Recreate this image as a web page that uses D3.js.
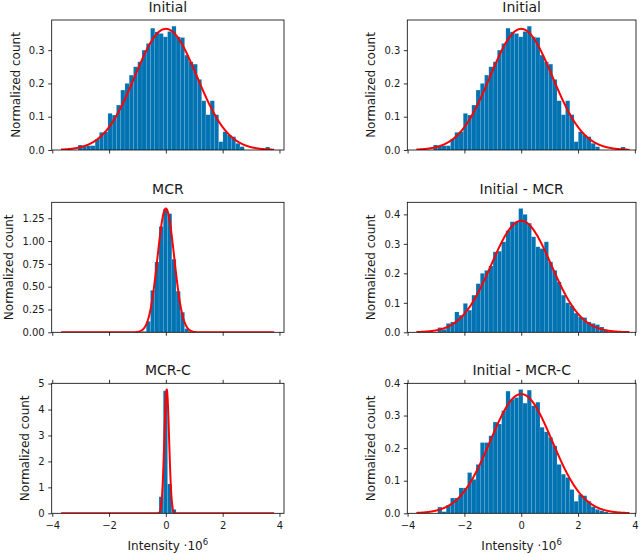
<!DOCTYPE html>
<html>
<head>
<meta charset="utf-8">
<script src="https://cdn.jsdelivr.net/npm/d3@7"></script>
<style>
  body { margin: 0; background: #fff; }
  svg { font-family: "DejaVu Sans", sans-serif; }
</style>
</head>
<body>
<div id="chart"></div>
<script>
// shared histogram bins (50 bins over the data range)
const binStart = -3.69;
const binWidth = 0.15;
const fitRange = [-3.69, 3.81];

const titles = ["Initial", "Initial", "MCR", "Initial - MCR", "MCR-C", "Initial - MCR-C"];

const initialHist = [0, 0, 0, 0, 0.015, 0.013, 0.013, 0.013, 0.033, 0.053,
  0.055, 0.11, 0.105, 0.135, 0.18, 0.20, 0.225, 0.25, 0.265, 0.30,
  0.32, 0.366, 0.355, 0.35, 0.34, 0.356, 0.372, 0.34, 0.338, 0.285,
  0.265, 0.258, 0.212, 0.148, 0.106, 0.148, 0.106, 0.025, 0.055, 0.045,
  0.04, 0.02, 0.01, 0, 0, 0, 0, 0, 0.009, 0];

const mcrHist = [0, 0, 0, 0, 0, 0, 0, 0, 0, 0,
  0, 0, 0, 0, 0, 0, 0, 0, 0, 0.01,
  0.12, 0.46, 0.77, 1.16, 1.35, 1.30, 0.80, 0.45, 0.22, 0.04,
  0.01, 0, 0, 0, 0, 0, 0, 0, 0, 0,
  0, 0, 0, 0, 0, 0, 0, 0, 0, 0];

const initialMinusMcrHist = [0, 0, 0, 0, 0, 0.016, 0.01, 0.03, 0.035, 0.069,
  0.058, 0.098, 0.075, 0.126, 0.165, 0.20, 0.21, 0.225, 0.273, 0.275,
  0.307, 0.345, 0.375, 0.375, 0.42, 0.40, 0.37, 0.324, 0.29, 0.284,
  0.307, 0.239, 0.21, 0.171, 0.126, 0.10, 0.09, 0.065, 0.052, 0.05,
  0.035, 0.03, 0.026, 0.018, 0.008, 0, 0, 0, 0, 0];

const mcrcHist = [0, 0, 0, 0, 0, 0, 0, 0, 0, 0,
  0, 0, 0, 0, 0, 0, 0, 0, 0, 0,
  0, 0, 0, 0.64, 4.72, 1.13, 0.15, 0, 0, 0,
  0, 0, 0, 0, 0, 0, 0, 0, 0, 0,
  0, 0, 0, 0, 0, 0, 0, 0, 0, 0];

const initialMinusMcrcHist = [0, 0, 0, 0, 0, 0.019, 0.005, 0.025, 0.047, 0.047,
  0.078, 0.078, 0.125, 0.104, 0.15, 0.217, 0.217, 0.238, 0.28, 0.274,
  0.315, 0.375, 0.35, 0.355, 0.38, 0.338, 0.378, 0.33, 0.341, 0.264,
  0.25, 0.233, 0.207, 0.15, 0.12, 0.11, 0.073, 0.037, 0.058, 0.054,
  0.037, 0.02, 0.012, 0.008, 0.004, 0, 0, 0, 0, 0];

const hists = [initialHist, initialHist, mcrHist, initialMinusMcrHist, mcrcHist, initialMinusMcrcHist];

// gaussian fits (mean, sigma), normalized pdf
const fitMean = [0, 0, 0, 0, 0.03, 0];
const fitSigma = [1.096, 1.096, 0.294, 1.055, 0.0836, 1.09];

const xTicks = [-4, -2, 0, 2, 4];
const yTicks = [
  [0, 0.1, 0.2, 0.3],
  [0, 0.1, 0.2, 0.3],
  [0, 0.25, 0.5, 0.75, 1.0, 1.25],
  [0, 0.1, 0.2, 0.3, 0.4],
  [0, 1, 2, 3, 4, 5],
  [0, 0.1, 0.2, 0.3, 0.4]
];
const yFormats = [".1f", ".1f", ".2f", ".1f", "d", ".1f"];

// layout
const colLeft = [51.7, 407.3];
const colRight = [284, 636];
const xDomains = [[-4.02, 4.16], [-4.01, 4.04]];
const rowTop = [20, 202.3, 383.3];
const plotHeight = 130;
const barColor = "#0173b2";

const svg = d3.select("#chart").append("svg")
  .attr("width", 640)
  .attr("height", 554);

function gauss(v, mu, s) {
  return Math.exp(-0.5 * ((v - mu) / s) ** 2) / (s * Math.sqrt(2 * Math.PI));
}

titles.forEach((title, i) => {
  const col = i % 2;
  const row = Math.floor(i / 2);
  const top = rowTop[row];
  const bottom = top + plotHeight;
  const left = colLeft[col];
  const right = colRight[col];
  const hist = hists[i];

  const x = d3.scaleLinear().domain(xDomains[col]).range([left, right]);
  const peak = gauss(fitMean[i], fitMean[i], fitSigma[i]);
  const ymax = 1.05 * Math.max(d3.max(hist), peak);
  const y = d3.scaleLinear().domain([0, ymax]).range([bottom, top]);

  const g = svg.append("g");

  g.append("clipPath")
    .attr("id", "clip" + i)
    .append("rect")
    .attr("x", left).attr("y", top)
    .attr("width", right - left).attr("height", plotHeight);

  const bins = hist.map((v, k) => ({ x0: binStart + k * binWidth, x1: binStart + (k + 1) * binWidth, v }))
    .filter(d => d.v > 0);

  g.append("g")
    .attr("clip-path", `url(#clip${i})`)
    .selectAll("rect")
    .data(bins)
    .enter()
    .append("rect")
    .attr("x", d => x(d.x0))
    .attr("width", d => x(d.x1) - x(d.x0))
    .attr("y", d => y(d.v))
    .attr("height", d => y(0) - y(d.v))
    .attr("fill", barColor)
    .attr("stroke", "#ffffff")
    .attr("stroke-opacity", 0.18)
    .attr("stroke-width", 0.5);

  const n = 1500;
  const pts = d3.range(n).map(j => {
    const v = fitRange[0] + j * (fitRange[1] - fitRange[0]) / (n - 1);
    return [v, gauss(v, fitMean[i], fitSigma[i])];
  });

  g.append("path")
    .datum(pts)
    .attr("clip-path", `url(#clip${i})`)
    .attr("fill", "none")
    .attr("stroke", "#ff0000")
    .attr("stroke-width", 2)
    .attr("stroke-linejoin", "round")
    .attr("d", d3.line().x(d => x(d[0])).y(d => y(d[1])));

  // x axis
  const xAxis = d3.axisBottom(x)
    .tickValues(xTicks)
    .tickSize(3.5)
    .tickPadding(5)
    .tickFormat(row === 2 ? d3.format("d") : () => "");
  const xg = g.append("g").attr("transform", `translate(0,${bottom})`).call(xAxis);
  if (row === 2) {
    g.append("g").attr("transform", `translate(0,${top})`)
      .call(d3.axisTop(x).tickValues(xTicks).tickSize(3.5).tickFormat(() => ""))
      .call(a => a.select(".domain").remove())
      .call(a => a.selectAll("line").attr("stroke", "#000").attr("stroke-width", 0.8));
  }

  // y axis
  const yAxis = d3.axisLeft(y)
    .tickValues(yTicks[i])
    .tickSize(3.5)
    .tickPadding(3.5)
    .tickFormat(d3.format(yFormats[i]));
  const yg = g.append("g").attr("transform", `translate(${left},0)`).call(yAxis);

  [xg, yg].forEach(a => {
    a.select(".domain").remove();
    a.selectAll("line").attr("stroke", "#000").attr("stroke-width", 0.8);
    a.selectAll("text").attr("font-size", "10px").attr("fill", "#1a1a1a")
      .attr("font-family", "DejaVu Sans");
  });

  // frame
  g.append("rect")
    .attr("x", left).attr("y", top)
    .attr("width", right - left).attr("height", plotHeight)
    .attr("fill", "none")
    .attr("stroke", "#000")
    .attr("stroke-width", 0.8);

  // title
  g.append("text")
    .attr("x", (left + right) / 2)
    .attr("y", top - 8)
    .attr("text-anchor", "middle")
    .attr("font-size", "14px")
    .attr("fill", "#1a1a1a")
    .text(title);

  // y label, placed left of the tick labels
  let minX = Infinity;
  yg.selectAll("text").each(function () {
    const b = this.getBBox();
    const tx = b.x + left;
    if (tx < minX) minX = tx;
  });
  const lx = minX - 9;
  g.append("text")
    .attr("transform", `translate(${lx},${(top + bottom) / 2}) rotate(-90)`)
    .attr("text-anchor", "middle")
    .attr("font-size", "12px")
    .attr("fill", "#1a1a1a")
    .text("Normalized count");

  if (row === 2) {
    const xl = g.append("text")
      .attr("x", (left + right) / 2)
      .attr("y", 549.5)
      .attr("text-anchor", "middle")
      .attr("font-size", "12px")
      .attr("fill", "#1a1a1a");
    xl.append("tspan").text("Intensity \u00b710");
    xl.append("tspan").attr("dy", -5).attr("font-size", "8.5px").text("6");
  }
});
</script>
</body>
</html>
